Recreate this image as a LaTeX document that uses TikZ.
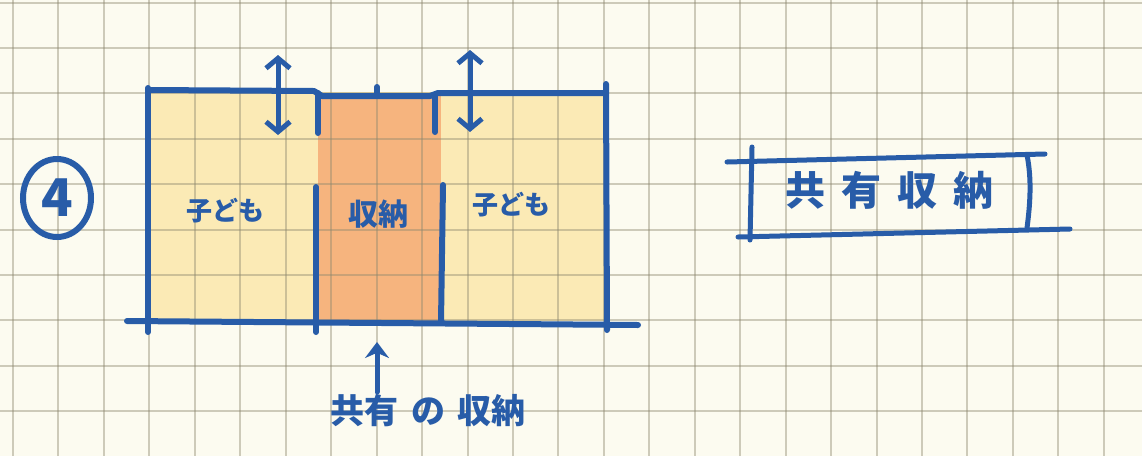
\documentclass[tikz,border=0pt]{standalone}
\usepackage{fontspec}
\newfontfamily\jp{Noto Sans CJK JP}
\usetikzlibrary{arrows.meta,shapes.geometric}
\definecolor{paper}{RGB}{252,251,240}
\definecolor{gridc}{RGB}{140,135,110}
\definecolor{ink}{RGB}{40,92,168}
\definecolor{yel}{RGB}{251,234,181}
\definecolor{ora}{RGB}{246,180,126}
\tikzset{
  pen/.style={draw=ink,line width=6pt,line cap=round,line join=round},
  thinpen/.style={draw=ink,line width=5pt,line cap=round,line join=round},
  hand/.style={text=ink,font=\jp\bfseries,inner sep=0pt},
  dbl/.style={thinpen,{Straight Barb[length=10pt,width=24pt]}-{Straight Barb[length=10pt,width=24pt]}},
  gridline/.style={draw=gridc,draw opacity=0.42,line width=2pt}
}
\begin{document}
\begin{tikzpicture}[x=1pt,y=-1pt]
\useasboundingbox (0,0) rectangle (1142,456);
\fill[paper] (0,0) rectangle (1142,456);
% fills
\fill[yel] (150,92) rectangle (606,321);
\fill[ora] (318,96) rectangle (441,321);
% grid
\foreach \k in {0,...,24} \draw[gridline] ({13+45.45*\k},0) -- ({13+45.45*\k},456);
\foreach \k in {0,...,9} \draw[gridline] (0,{2.5+45.4*\k}) -- (1142,{2.5+45.4*\k});
% main box
\coordinate (tl) at (148,88);
\coordinate (bl) at (148,332);
\coordinate (tr) at (606,84);
\coordinate (br) at (607,330);
\coordinate (bL) at (127,321);
\coordinate (bR) at (638,325);
\draw[pen] (tl) -- (bl);
\draw[pen] (tr) -- (br);
\draw[pen] (bL) -- (bR);
\draw[pen] (148,90) -- (314,91) -- (322,96) -- (430,96) -- (438,93) -- (606,93);
\draw[pen] (377,87) -- (377,95);
\coordinate (d1a) at (318,93); \coordinate (d1b) at (318,133);
\coordinate (d2a) at (316,187); \coordinate (d2b) at (316,332);
\coordinate (d3a) at (435,96); \coordinate (d3b) at (435,132);
\coordinate (d4a) at (443,185); \coordinate (d4b) at (441,322);
\draw[pen] (d1a) -- (d1b);
\draw[pen] (d2a) -- (d2b);
\draw[pen] (d3a) -- (d3b);
\draw[pen] (d4a) -- (d4b);
% arrows
\coordinate (a1t) at (278,55); \coordinate (a1b) at (278,135);
\coordinate (a2t) at (470,50); \coordinate (a2b) at (470,132);
\draw[dbl] (a1b) -- (a1t);
\draw[dbl] (a2b) -- (a2t);
% labels
\node[hand,font=\jp\bfseries\fontsize{26}{26}\selectfont] (kl) at (225,211) {子ども};
\node[hand,font=\jp\bfseries\fontsize{30}{30}\selectfont] (sn) at (378,214) {収納};
\node[hand,font=\jp\bfseries\fontsize{26}{26}\selectfont] (kr) at (511,205) {子ども};
% circled 4
\node[ellipse,draw=ink,line width=6pt,minimum width=68pt,minimum height=78pt,text=ink,font=\jp\bfseries\fontsize{52}{52}\selectfont,inner sep=0pt] (four) at (57,198) {4};
% bottom label and arrow
\node[hand,font=\jp\bfseries\fontsize{34}{34}\selectfont] (kyo) at (428,411) {共有\hspace{14pt}の\hspace{12pt}収納};
\coordinate (arrtip) at (377,342);
\draw[thinpen,-{Stealth[length=16pt,width=24pt]}] (377,392) -- (arrtip);
% right box
\coordinate (rt1) at (727,162); \coordinate (rt2) at (1045,154);
\coordinate (rb1) at (738,237); \coordinate (rb2) at (1070,229);
\coordinate (rl1) at (752,147); \coordinate (rl2) at (750,240);
\coordinate (rr1) at (1027,155); \coordinate (rr2) at (1027,228);
\draw[pen,line width=5pt] (rt1) -- (rt2);
\draw[pen,line width=5pt] (rb1) -- (rb2);
\draw[pen,line width=5pt] (rl1) -- (rl2);
\draw[pen,line width=5pt] (rr1) .. controls (1032,180) and (1030,205) .. (rr2);
\node[hand,font=\jp\bfseries\fontsize{40}{40}\selectfont] (kyoyu) at (889,190) {共\hspace{16pt}有\hspace{16pt}収\hspace{16pt}納};
\end{tikzpicture}
\end{document}
